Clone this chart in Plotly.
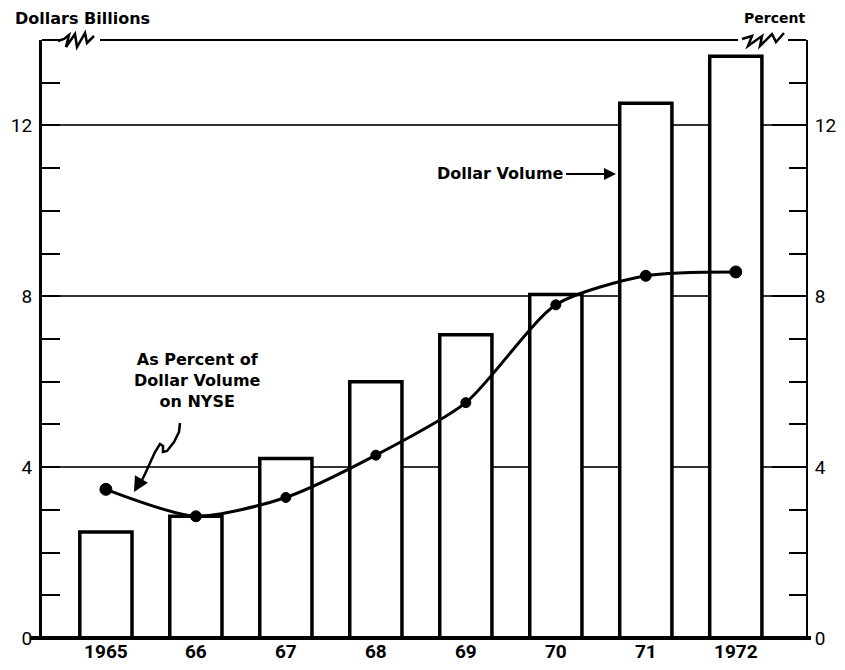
import plotly.graph_objects as go

years = ["1965", "66", "67", "68", "69", "70", "71", "1972"]
dollar_volume = [2.48, 2.85, 4.2, 6.0, 7.1, 8.04, 12.52, 13.62]
pct_of_nyse = [3.48, 2.85, 3.29, 4.28, 5.51, 7.8, 8.48, 8.57]
y_ticks = [0, 4, 8, 12]

# page places the figure 8px in from the top-left corner (body margin)
OFF = 8
W, H = 845 - 2 * OFF, 670 - 2 * OFF
L, R, T, B = 42, 806, 40, 638  # plot area in screen pixels


def px(x):
    return (x - L) / (R - L)


def py(y):
    return (B - y) / (B - T)


def path(points):
    return "M " + " L ".join(f"{px(a):.5f},{py(b):.5f}" for a, b in points)


NUM_FONT = "Roboto, Liberation Sans, sans-serif"
TXT_FONT = "DejaVu Sans, Verdana, sans-serif"

fig = go.Figure()
fig.add_trace(go.Bar(
    x=years, y=dollar_volume, width=0.58,
    marker=dict(color="white", line=dict(color="black", width=3.5)),
    showlegend=False, hoverinfo="skip",
))
fig.add_trace(go.Scatter(
    x=years, y=pct_of_nyse, yaxis="y2", mode="lines+markers",
    line=dict(color="black", width=3, shape="spline", smoothing=0.7),
    marker=dict(color="#000000", opacity=1, size=[12, 11, 10, 10, 10, 10, 11, 12],
                line=dict(width=1, color="#000000")),
    showlegend=False, hoverinfo="skip",
))

shapes = []
shapes.append(dict(type="line", xref="paper", yref="paper",
                   x0=px(30), x1=px(811), y0=0, y1=0,
                   line=dict(color="black", width=4)))
shapes.append(dict(type="path", xref="paper", yref="paper",
                   path=path([(42, 40), (57, 40)]), line=dict(color="black", width=2)))
shapes.append(dict(type="path", xref="paper", yref="paper",
                   path=path([(58, 41), (64, 39), (69, 35), (66, 47), (75, 34), (77, 47), (85, 33), (87, 43), (94, 36)]),
                   line=dict(color="black", width=2.5)))
shapes.append(dict(type="path", xref="paper", yref="paper",
                   path=path([(100, 40), (738, 40)]), line=dict(color="black", width=2)))
shapes.append(dict(type="path", xref="paper", yref="paper",
                   path=path([(742, 39), (752, 36), (748, 46), (762, 36), (760, 46), (772, 34), (776, 42), (784, 33)]),
                   line=dict(color="black", width=2.5)))
shapes.append(dict(type="path", xref="paper", yref="paper",
                   path=path([(788, 40), (806, 40)]), line=dict(color="black", width=2)))
shapes.append(dict(type="path", xref="paper", yref="paper",
                   path=path([(180, 423), (179, 432), (174, 442), (167, 451), (163, 452), (163, 446),
                              (160, 444), (155, 452), (150, 463), (145, 474), (140, 484)]),
                   line=dict(color="black", width=2.5)))
fig.update_layout(shapes=shapes)

annotations = [
    dict(text="<b>Dollars Billions</b>", xref="paper", yref="paper", x=px(82), y=py(19),
         xanchor="center", yanchor="middle",
         showarrow=False, font=dict(family=TXT_FONT, size=16, color="black")),
    dict(text="<b>Percent</b>", xref="paper", yref="paper", x=px(774), y=py(18),
         xanchor="center", yanchor="middle",
         showarrow=False, font=dict(family=TXT_FONT, size=14, color="black")),
    dict(text="<b>As Percent of<br>Dollar Volume<br>on NYSE</b>", xref="paper", yref="paper",
         x=px(197), y=py(380), xanchor="center", yanchor="middle",
         showarrow=False, align="center",
         font=dict(family=TXT_FONT, size=16, color="black")),
    dict(text="<b>Dollar Volume</b>", xref="paper", yref="paper", x=px(616), y=py(174),
         ax=-50, ay=0, showarrow=True, arrowhead=2, arrowsize=1.2, arrowwidth=2,
         arrowcolor="black", xanchor="right", yanchor="middle",
         font=dict(family=TXT_FONT, size=16, color="black")),
    dict(text="", xref="paper", yref="paper", x=px(134), y=py(492),
         ax=8, ay=-14, showarrow=True, arrowhead=2, arrowsize=1.2, arrowwidth=2.5,
         arrowcolor="black"),
]
fig.update_layout(annotations=annotations)

fig.update_layout(
    width=W, height=H,
    margin=dict(l=L - OFF, r=(W + OFF) - R, t=T - OFF, b=(H + OFF) - B, autoexpand=False, pad=0),
    paper_bgcolor="white", plot_bgcolor="white",
    xaxis=dict(type="category", range=[-0.71, 7.78], showline=False, showgrid=False,
               automargin=False, ticks="", ticklen=0,
               tickfont=dict(family=NUM_FONT, size=19, color="black", weight="bold"),
               ticklabelstandoff=0),
    yaxis=dict(range=[0, 14], tickvals=y_ticks, ticktext=[str(v) for v in y_ticks],
               automargin=False,
               showline=True, linewidth=3, linecolor="black",
               showgrid=True, gridcolor="#333", gridwidth=1.5, zeroline=False,
               ticks="", ticklabelstandoff=3,
               minor=dict(dtick=1, ticks="inside", ticklen=18, tickwidth=2, tickcolor="black",
                          showgrid=False),
               tickfont=dict(family=NUM_FONT, size=19, color="black")),
    yaxis2=dict(range=[0, 14], overlaying="y", side="right", tickvals=y_ticks,
                ticktext=[str(v) for v in y_ticks], automargin=False,
                showline=True, linewidth=2, linecolor="black", showgrid=False, zeroline=False,
                ticks="inside", ticklen=34, tickwidth=2, tickcolor="black", ticklabelstandoff=3,
                minor=dict(dtick=1, ticks="inside", ticklen=17, tickwidth=2, tickcolor="black"),
                tickfont=dict(family=NUM_FONT, size=19, color="black")),
)

fig.write_html("out.html")
